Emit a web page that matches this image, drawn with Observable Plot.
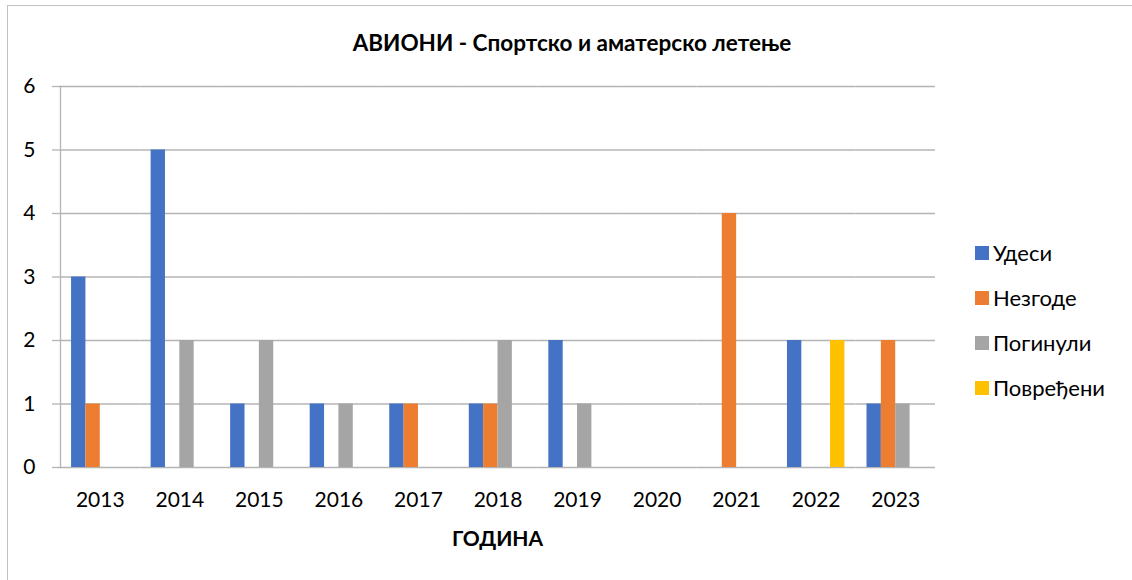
<!DOCTYPE html>
<html>
<head>
<meta charset="utf-8">
<script src="https://cdn.jsdelivr.net/npm/d3@7"></script>
<script src="https://cdn.jsdelivr.net/npm/@observablehq/plot@0.6"></script>
<style>
  html, body { margin: 0; padding: 0; background: #fff; }
  #wrap { position: relative; width: 1132px; height: 580px; overflow: hidden; font-family: Lato, "Open Sans", sans-serif; color: #000; }
  #border { position: absolute; left: 7px; top: 5px; width: 1140px; height: 600px; border: 1.5px solid #c0c0c0; box-sizing: border-box; }
  #title { position: absolute; top: 29px; left: 0; width: 1144px; text-align: center; font-weight: bold; font-size: 22.5px; }
  #xlabel { position: absolute; top: 525px; left: 0; width: 995px; text-align: center; font-weight: bold; font-size: 21px; }
  #chart { position: absolute; left: 0; top: 0; }
  #legend { position: absolute; left: 975px; top: 230px; font-size: 22px; }
  .item { display: flex; align-items: center; height: 45px; }
  .sw { width: 14px; height: 14px; margin-right: 4px; }
</style>
</head>
<body>
<div id="wrap">
  <div id="border"></div>
  <div id="chart"></div>
  <div id="title"></div>
  <div id="xlabel"></div>
  <div id="legend"></div>
</div>
<script>
const title = "АВИОНИ - Спортско и аматерско летење";
const xLabel = "ГОДИНА";
const years = ["2013","2014","2015","2016","2017","2018","2019","2020","2021","2022","2023"];
const seriesNames = ["Удеси", "Незгоде", "Погинули", "Повређени"];
const colors = ["#4472C4", "#ED7D31", "#A5A5A5", "#FFC000"];
const udesi     = [3, 5, 1, 1, 1, 1, 2, 0, 0, 2, 1];
const nezgode   = [1, 0, 0, 0, 1, 1, 0, 0, 4, 0, 2];
const poginuli  = [0, 2, 2, 1, 0, 2, 1, 0, 0, 0, 1];
const povredjeni= [0, 0, 0, 0, 0, 0, 0, 0, 0, 2, 0];
const yTicks = [0, 1, 2, 3, 4, 5, 6];

const seriesValues = [udesi, nezgode, poginuli, povredjeni];
const data = [];
years.forEach((y, i) => seriesNames.forEach((s, j) => data.push({year: y, series: s, value: seriesValues[j][i]})));

document.getElementById("title").textContent = title;
document.getElementById("xlabel").textContent = xLabel;

const grid = "#b4b4b4";
const chart = Plot.plot({
  width: 1132,
  height: 580,
  marginLeft: 60,
  marginRight: 197,
  marginTop: 86,
  marginBottom: 113,
  style: { fontFamily: "Lato, 'Open Sans', sans-serif", fontSize: "21px", color: "#000", background: "transparent" },
  fx: { domain: years, padding: 0, round: false, label: null },
  x: { domain: seriesNames, paddingInner: 0, paddingOuter: 0.77, round: false, axis: null },
  y: { domain: [0, 6], ticks: yTicks, label: null },
  color: { domain: seriesNames, range: colors },
  marks: [
    Plot.gridY(yTicks, { stroke: grid, strokeOpacity: 1, strokeWidth: 1.3 }),
    Plot.axisY(yTicks, { facetAnchor: "left", tickSize: 8, tickPadding: 17, tickFormat: d => String(d), stroke: grid, strokeOpacity: 1, strokeWidth: 1.3, fontSize: 21, label: null }),
    Plot.axisFx({ anchor: "bottom", facetAnchor: "bottom", tickSize: 0, tickPadding: 25, fontSize: 21, label: null }),
    Plot.frame({ anchor: "left", facetAnchor: "left", stroke: grid, strokeOpacity: 1, strokeWidth: 1.3 }),
    Plot.barY(data, { fx: "year", x: "series", y: "value", fill: "series", inset: 0 })
  ]
});
document.getElementById("chart").appendChild(chart);

const legend = document.getElementById("legend");
seriesNames.forEach((s, j) => {
  const it = document.createElement("div");
  it.className = "item";
  const sw = document.createElement("div");
  sw.className = "sw";
  sw.style.background = colors[j];
  const t = document.createElement("span");
  t.textContent = s;
  it.appendChild(sw); it.appendChild(t);
  legend.appendChild(it);
});
</script>
</body>
</html>
